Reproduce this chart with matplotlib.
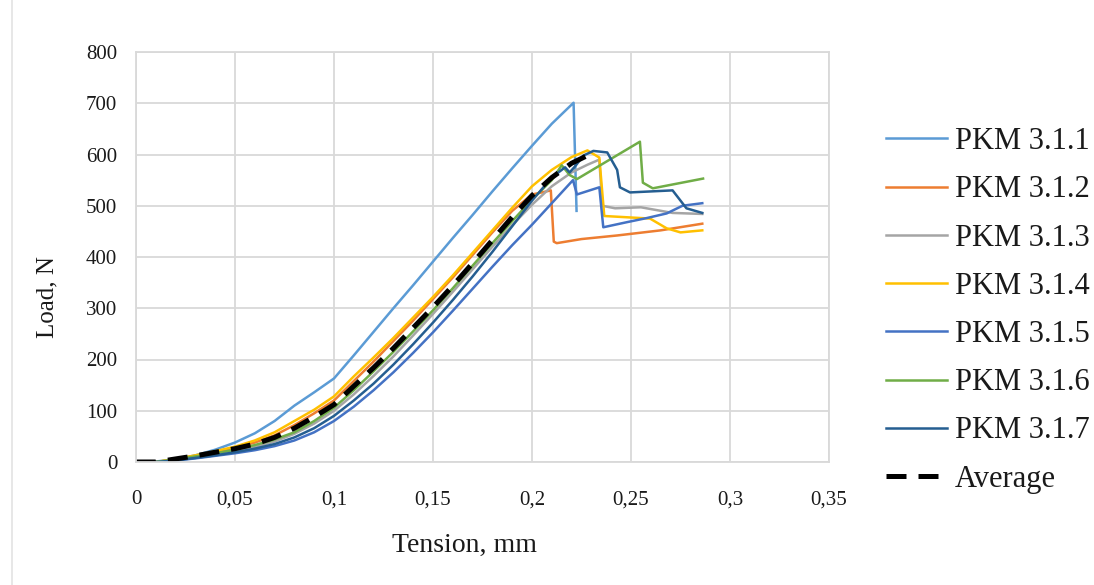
import matplotlib
matplotlib.use("Agg")
import matplotlib.pyplot as plt
from matplotlib.ticker import FuncFormatter
from matplotlib.lines import Line2D

# Load–tension curves of the PKM 3.1.x specimens (tension in mm, load in N)
pkm_311_x = [0, 0.01, 0.02, 0.03, 0.04, 0.05, 0.06, 0.07, 0.08, 0.09, 0.10, 0.11, 0.12, 0.13,
             0.14, 0.15, 0.16, 0.17, 0.18, 0.19, 0.20, 0.21, 0.221, 0.2225]
pkm_311_y = [0, 1, 5, 13, 24, 38, 56, 80, 110, 136, 163, 208, 254, 300,
             345, 391, 437, 482, 528, 573, 617, 660, 701, 490]

pkm_312_x = [0, 0.01, 0.02, 0.03, 0.04, 0.05, 0.06, 0.07, 0.08, 0.09, 0.10, 0.11, 0.12, 0.13,
             0.14, 0.15, 0.16, 0.17, 0.18, 0.19, 0.20, 0.205, 0.2095, 0.211, 0.2125, 0.225,
             0.243, 0.265, 0.286]
pkm_312_y = [0, 0, 5, 12, 19, 28, 38, 52, 72, 95, 120, 158, 196, 236,
             276, 318, 360, 404, 448, 490, 522, 526, 530, 430, 427, 435,
             442, 452, 465]

pkm_313_x = [0, 0.01, 0.02, 0.03, 0.04, 0.05, 0.06, 0.07, 0.08, 0.09, 0.10, 0.11, 0.12, 0.13,
             0.14, 0.15, 0.16, 0.17, 0.18, 0.19, 0.20, 0.21, 0.22, 0.228, 0.234, 0.2355,
             0.242, 0.255, 0.271, 0.286]
pkm_313_y = [0, 0, 4, 9, 15, 21, 29, 40, 55, 75, 100, 132, 168, 206,
             247, 289, 332, 376, 420, 462, 502, 538, 565, 580, 590, 500,
             495, 497, 486, 484]

pkm_314_x = [0, 0.01, 0.02, 0.03, 0.04, 0.05, 0.06, 0.07, 0.08, 0.09, 0.10, 0.11, 0.12, 0.13,
             0.14, 0.15, 0.16, 0.17, 0.18, 0.19, 0.20, 0.21, 0.22, 0.228, 0.234, 0.2365,
             0.2596, 0.268, 0.275, 0.286]
pkm_314_y = [0, 0, 6, 13, 21, 30, 42, 58, 80, 102, 128, 167, 204, 242,
             282, 322, 364, 408, 452, 496, 538, 570, 595, 608, 594, 480,
             475, 456, 448, 452]

pkm_315_x = [0, 0.01, 0.02, 0.03, 0.04, 0.05, 0.06, 0.07, 0.08, 0.09, 0.10, 0.11, 0.12, 0.13,
             0.14, 0.15, 0.16, 0.17, 0.18, 0.19, 0.20, 0.21, 0.2207, 0.2227, 0.234, 0.236,
             0.248, 0.258, 0.268, 0.276, 0.286]
pkm_315_y = [0, 0, 3, 7, 12, 17, 23, 31, 42, 58, 80, 108, 140, 175,
             213, 253, 295, 338, 381, 423, 463, 505, 550, 522, 536, 458,
             468, 476, 485, 500, 505]

pkm_316_x = [0, 0.01, 0.02, 0.03, 0.04, 0.05, 0.06, 0.07, 0.08, 0.09, 0.10, 0.11, 0.12, 0.13,
             0.14, 0.15, 0.16, 0.17, 0.18, 0.19, 0.20, 0.21, 0.215, 0.219, 0.2227, 0.2545,
             0.256, 0.261, 0.2864]
pkm_316_y = [0, 0, 5, 11, 17, 24, 33, 44, 58, 80, 106, 140, 177, 215,
             255, 296, 339, 383, 427, 470, 512, 550, 579, 560, 552, 625,
             545, 534, 553]

pkm_317_x = [0, 0.01, 0.02, 0.03, 0.04, 0.05, 0.06, 0.07, 0.08, 0.09, 0.10, 0.11, 0.12, 0.13,
             0.14, 0.15, 0.16, 0.17, 0.18, 0.19, 0.20, 0.21, 0.2167, 0.219, 0.222, 0.226,
             0.231, 0.238, 0.243, 0.2444, 0.2495, 0.271, 0.275, 0.278, 0.286]
pkm_317_y = [0, 0, 3, 8, 13, 19, 26, 35, 48, 66, 90, 120, 153, 190,
             230, 272, 316, 362, 410, 460, 510, 555, 575, 565, 578, 598,
             607, 604, 570, 536, 526, 530, 510, 495, 486]

average_x = [0, 0.01, 0.02, 0.03, 0.04, 0.05, 0.06, 0.07, 0.08, 0.09, 0.10, 0.11, 0.12, 0.13,
             0.14, 0.15, 0.16, 0.17, 0.18, 0.19, 0.20, 0.21, 0.22, 0.228]
average_y = [0, 0, 6, 12, 19, 26, 35, 48, 66, 88, 112, 148, 184, 222,
             262, 302, 344, 388, 433, 478, 520, 555, 583, 598]

series_labels = ["PKM 3.1.1", "PKM 3.1.2", "PKM 3.1.3", "PKM 3.1.4",
                 "PKM 3.1.5", "PKM 3.1.6", "PKM 3.1.7"]
series_x = [pkm_311_x, pkm_312_x, pkm_313_x, pkm_314_x, pkm_315_x, pkm_316_x, pkm_317_x]
series_y = [pkm_311_y, pkm_312_y, pkm_313_y, pkm_314_y, pkm_315_y, pkm_316_y, pkm_317_y]
series_colors = ["#5B9BD5", "#ED7D31", "#A5A5A5", "#FFC000", "#4472C4", "#70AD47", "#255E91"]

x_ticks = [0, 0.05, 0.1, 0.15, 0.2, 0.25, 0.3, 0.35]
y_ticks = [0, 100, 200, 300, 400, 500, 600, 700, 800]

plt.rcParams["font.family"] = ["Liberation Serif", "DejaVu Serif"]

W, H = 1094, 585
fig = plt.figure(figsize=(W / 100, H / 100), dpi=100)
ax = fig.add_axes([136 / W, 1 - 462 / H, (829 - 136) / W, (462 - 52) / H])

grid_color = "#D9D9D9"
text_color = "#1A1A1A"
for xs, ys, lab, col in zip(series_x, series_y, series_labels, series_colors):
    ax.plot(xs, ys, color=col, lw=1.8, label=lab, solid_joinstyle="round")
ax.plot(average_x, average_y, color="black", lw=3.6, dashes=(4.0, 2.4),
        label="Average", dash_capstyle="butt")

ax.set_xlim(0, 0.35)
ax.set_ylim(0, 800)
ax.set_xticks(x_ticks)
ax.set_yticks(y_ticks)
ax.xaxis.set_major_formatter(FuncFormatter(lambda v, p: f"{v:g}".replace(".", ",")))
ax.grid(True, color=grid_color, lw=1.3)
ax.set_axisbelow(True)
for s in ax.spines.values():
    s.set_color(grid_color)
    s.set_linewidth(1.3)
ax.tick_params(length=0, labelsize=15, colors=text_color)
ax.tick_params(axis="x", pad=20.5)
ax.tick_params(axis="y", pad=13.5)

ax.set_xlabel("Tension, mm", fontsize=20, color=text_color)
ax.set_ylabel("Load, N", fontsize=18, color=text_color)
ax.xaxis.set_label_coords((465 - 136) / 693, -(545 - 462) / 410)
ax.yaxis.set_label_coords((47 - 136) / 693, (462 - 297) / 410)
ax.xaxis.label.set_va("center")
ax.yaxis.label.set_va("center")

leg = ax.legend(loc="upper left", bbox_to_anchor=(886 / W, 1 - 127 / H),
                bbox_transform=fig.transFigure, frameon=False, fontsize=22,
                handlelength=2.0, handletextpad=0.25, labelspacing=0.63,
                borderpad=0, borderaxespad=0)
for t in leg.get_texts():
    t.set_color(text_color)

# thin divider line at the left edge of the figure
fig.add_artist(Line2D([12 / W, 12 / W], [0, 1], color="#E3E3E3", lw=1.2,
                      transform=fig.transFigure))

fig.savefig("out.png", dpi=100)
